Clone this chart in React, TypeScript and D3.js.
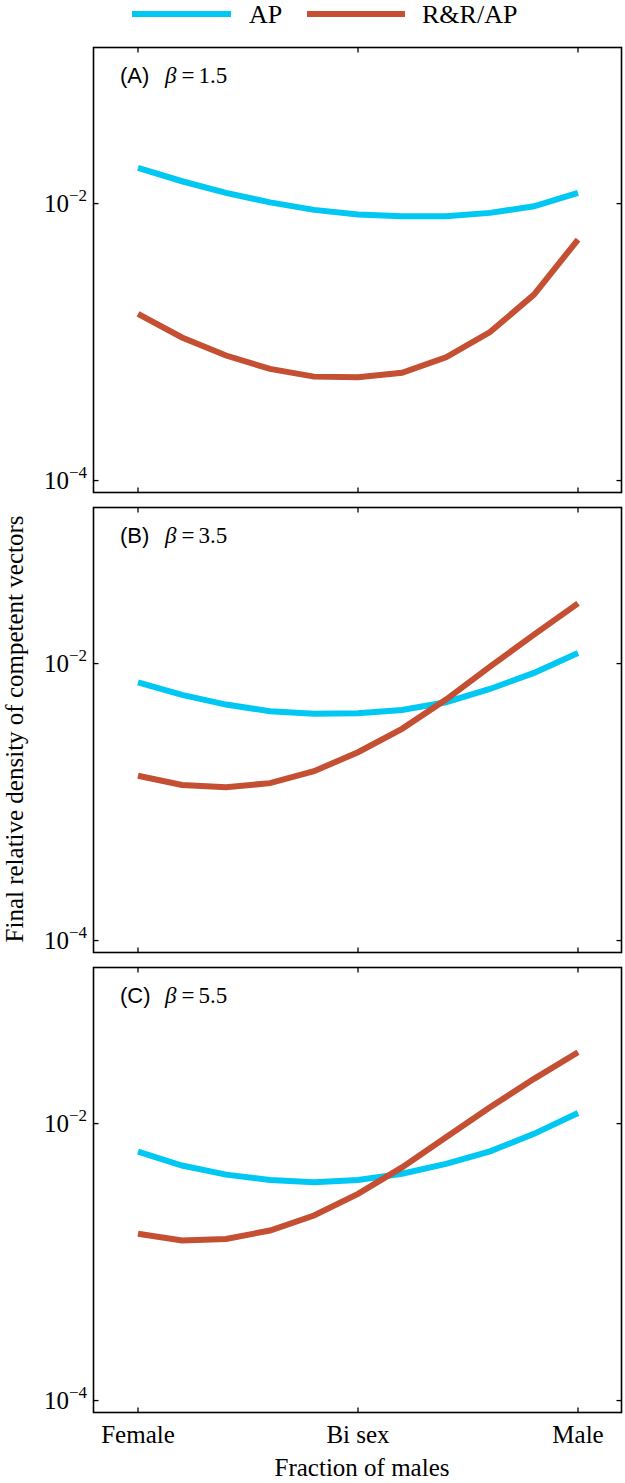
import React, { useEffect, useRef } from "react";
import * as d3 from "d3";

const categories = ["Female", "", "", "", "", "Bi sex", "", "", "", "", "Male"];
const xTickLabels = ["Female", "Bi sex", "Male"];
const xTickIndex = [0, 5, 10];
const panelLabels = ["(A)", "(B)", "(C)"];
const betaValues = ["1.5", "3.5", "5.5"];
const seriesNames = ["AP", "R&R/AP"];
const seriesColors = ["#00c8f2", "#c44f33"];

const apA = [0.0181, 0.0145, 0.01194, 0.01021, 0.00901, 0.00833, 0.0081, 0.0081, 0.00857, 0.00956, 0.01194];
const rrA = [0.0016, 0.00108, 0.0008, 0.00064, 0.000563, 0.000557, 0.0006, 0.000776, 0.00118, 0.0022, 0.0055];
const apB = [0.00733, 0.00594, 0.00506, 0.00453, 0.00434, 0.00438, 0.00463, 0.00526, 0.00656, 0.00857, 0.01194];
const rrB = [0.00155, 0.00133, 0.00128, 0.00137, 0.00167, 0.00229, 0.00338, 0.0055, 0.00951, 0.01618, 0.02723];
const apC = [0.00628, 0.00498, 0.00428, 0.00392, 0.00377, 0.00392, 0.00434, 0.00512, 0.00631, 0.00843, 0.01194];
const rrC = [0.0016, 0.00143, 0.00147, 0.00169, 0.00217, 0.00311, 0.00483, 0.00796, 0.01312, 0.02104, 0.03272];

const panels = [
  [apA, rrA],
  [apB, rrB],
  [apC, rrC],
];
const yTicks = [1e-2, 1e-4];
const yTickExp = ["−2", "−4"];
const yDomain = [8.2e-5, 0.134];

export default function App() {
  const ref = useRef<SVGSVGElement>(null);

  useEffect(() => {
    const svg = d3.select(ref.current);
    svg.selectAll("*").remove();
    const left = 93.5;
    const right = 621.5;
    const panelTop = [47.5, 507.5, 967.5];
    const panelH = 445;
    const serif = "'Liberation Serif', 'Times New Roman', serif";
    const sans = "'Liberation Sans', Arial, sans-serif";

    const x = d3
      .scalePoint<number>()
      .domain(d3.range(categories.length))
      .range([138, 578]);

    const legX = [[132, 231, 249], [307, 405, 422]];
    seriesNames.forEach((name, i) => {
      svg
        .append("line")
        .attr("x1", legX[i][0])
        .attr("x2", legX[i][1])
        .attr("y1", 14)
        .attr("y2", 14)
        .attr("stroke", seriesColors[i])
        .attr("stroke-width", 6);
      svg
        .append("text")
        .attr("x", legX[i][2])
        .attr("y", 23)
        .attr("font-family", serif)
        .attr("font-size", 26)
        .attr("fill", "#000")
        .text(name);
    });

    panels.forEach((series, p) => {
      const top = panelTop[p];
      const y = d3.scaleLog().domain(yDomain).range([top + panelH, top]);
      const g = svg.append("g");

      series.forEach((vals, si) => {
        const line = d3
          .line<number>()
          .x((_, i) => x(i) as number)
          .y((v) => y(v));
        g.append("path")
          .attr("d", line(vals))
          .attr("fill", "none")
          .attr("stroke", seriesColors[si])
          .attr("stroke-width", 6)
          .attr("stroke-linejoin", "miter");
      });

      g.append("rect")
        .attr("x", left)
        .attr("y", top)
        .attr("width", right - left)
        .attr("height", panelH)
        .attr("fill", "none")
        .attr("stroke", "#000")
        .attr("stroke-width", 1.6);

      xTickIndex.forEach((idx) => {
        const xx = x(idx) as number;
        g.append("line").attr("x1", xx).attr("x2", xx).attr("y1", top).attr("y2", top + 5).attr("stroke", "#000").attr("stroke-width", 1.3);
        g.append("line").attr("x1", xx).attr("x2", xx).attr("y1", top + panelH).attr("y2", top + panelH - 5).attr("stroke", "#000").attr("stroke-width", 1.3);
      });

      yTicks.forEach((t, ti) => {
        const yy = y(t);
        g.append("line").attr("x1", left).attr("x2", left + 5).attr("y1", yy).attr("y2", yy).attr("stroke", "#000").attr("stroke-width", 1.3);
        g.append("line").attr("x1", right).attr("x2", right - 5).attr("y1", yy).attr("y2", yy).attr("stroke", "#000").attr("stroke-width", 1.3);
        const tx = g
          .append("text")
          .attr("x", 87)
          .attr("y", yy + 8)
          .attr("text-anchor", "end")
          .attr("font-family", serif)
          .attr("font-size", 25)
          .attr("fill", "#000");
        tx.append("tspan").text("10");
        tx.append("tspan").attr("dy", -11).attr("font-size", 17).text(yTickExp[ti]);
      });

      g.append("text")
        .attr("x", 120)
        .attr("y", top + 35)
        .attr("font-family", sans)
        .attr("font-size", 22)
        .attr("fill", "#000")
        .text(panelLabels[p]);
      const bt = g
        .append("text")
        .attr("x", 165)
        .attr("y", top + 35)
        .attr("font-family", serif)
        .attr("font-size", 23)
        .attr("fill", "#000");
      bt.append("tspan").attr("font-style", "italic").text("β");
      bt.append("tspan").attr("dx", 5).text("=");
      bt.append("tspan").attr("dx", 4).text(betaValues[p]);
    });

    const bottom = panelTop[2] + panelH;
    xTickIndex.forEach((idx, i) => {
      svg
        .append("text")
        .attr("x", x(idx) as number)
        .attr("y", bottom + 30)
        .attr("text-anchor", "middle")
        .attr("font-family", serif)
        .attr("font-size", 25)
        .attr("fill", "#000")
        .text(xTickLabels[i]);
    });

    svg
      .append("text")
      .attr("x", 362)
      .attr("y", bottom + 63)
      .attr("text-anchor", "middle")
      .attr("font-family", serif)
      .attr("font-size", 25)
      .attr("fill", "#000")
      .text("Fraction of males");

    svg
      .append("text")
      .attr("transform", `translate(23, 729) rotate(-90)`)
      .attr("text-anchor", "middle")
      .attr("font-family", serif)
      .attr("font-size", 25)
      .attr("fill", "#000")
      .text("Final relative density of competent vectors");
  }, []);

  return (
    <svg
      ref={ref}
      width={625}
      height={1483}
      style={{ position: "absolute", left: 0, top: 0, background: "#fff" }}
    />
  );
}
